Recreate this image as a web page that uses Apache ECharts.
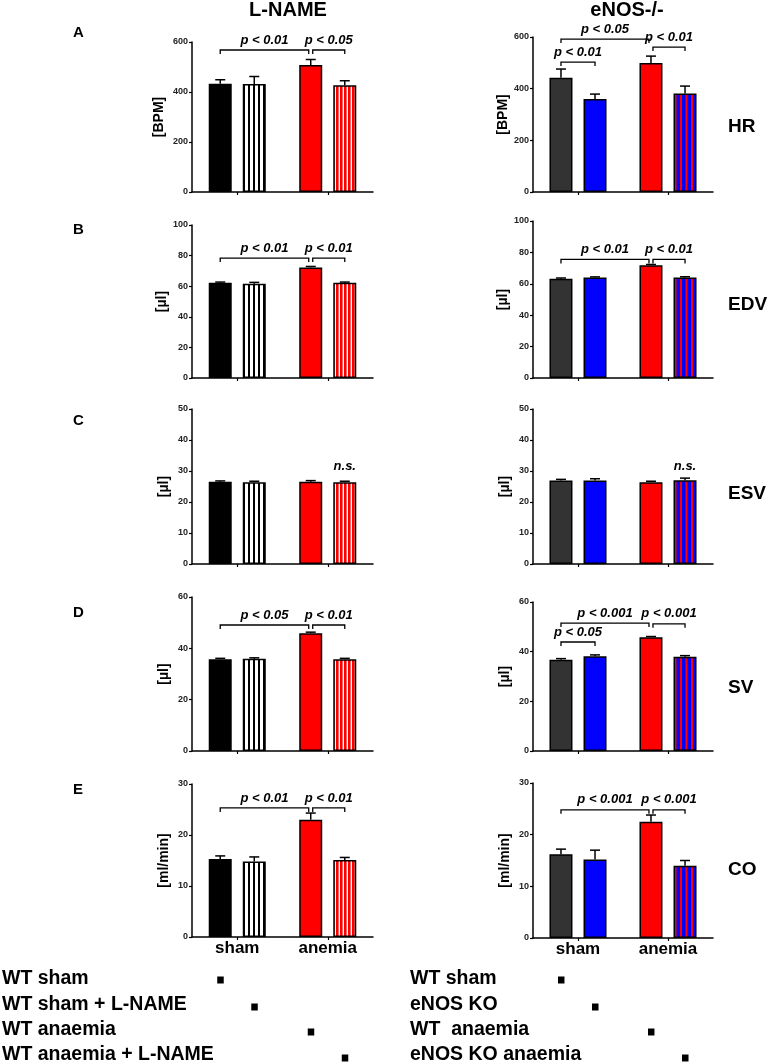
<!DOCTYPE html>
<html><head><meta charset="utf-8">
<script src="https://cdn.jsdelivr.net/npm/echarts@6/dist/echarts.min.js"></script>
<style>html,body{margin:0;padding:0;background:#fff}#c{width:769px;height:1063px}</style>
</head><body><div id="c"></div>
<script>
// ---------- data ----------
const groups = ['sham', 'anemia'];
const colTitles = ['L-NAME', 'eNOS-/-'];
const rowLabels = ['HR', 'EDV', 'ESV', 'SV', 'CO'];
const panelLetters = ['A', 'B', 'C', 'D', 'E'];
const yNames = ['[BPM]', '[µl]', '[µl]', '[µl]', '[ml/min]'];
const yMax = [600, 100, 50, 60, 30];
const yStep = [200, 20, 10, 20, 10];
const legendLname = ['WT sham', 'WT sham + L-NAME', 'WT anaemia', 'WT anaemia + L-NAME'];
const legendEnos = ['WT sham', 'eNOS KO', 'WT  anaemia', 'eNOS KO anaemia'];

// order of bars: sham WT, sham treated, anemia WT, anemia treated
const hrLname = [433, 432, 508, 427];
const hrLnameErr = [16, 30, 22, 18];
const hrEnos = [442, 360, 499, 381];
const hrEnosErr = [34, 19, 27, 29];
const edvLname = [62.3, 61.6, 72.3, 62.2];
const edvLnameErr = [0.4, 0.9, 0.6, 0.5];
const edvEnos = [63.2, 64.0, 71.8, 64.0];
const edvEnosErr = [0.5, 0.4, 0.5, 0.5];
const esvLname = [26.5, 26.4, 26.5, 26.4];
const esvLnameErr = [0.3, 0.3, 0.4, 0.3];
const esvEnos = [26.9, 26.9, 26.4, 27.0];
const esvEnosErr = [0.4, 0.6, 0.3, 0.7];
const svLname = [35.7, 35.9, 45.9, 35.7];
const svLnameErr = [0.4, 0.4, 0.4, 0.4];
const svEnos = [36.7, 38.2, 45.8, 38.0];
const svEnosErr = [0.5, 0.5, 0.3, 0.4];
const coLname = [15.3, 14.8, 23.0, 15.1];
const coLnameErr = [0.6, 0.9, 1.3, 0.5];
const coEnos = [16.2, 15.2, 22.5, 14.0];
const coEnosErr = [1.0, 1.8, 1.3, 1.0];

// significance: [fromBar, toBar, y value of bracket, text]
const hrLnameSig = [[0, 2, 568, 'p < 0.01'], [2, 3, 568, 'p < 0.05']];
const hrEnosSig = [[0, 2, 592, 'p < 0.05'], [0, 1, 503, 'p < 0.01'], [2, 3, 561, 'p < 0.01']];
const edvLnameSig = [[0, 2, 78.4, 'p < 0.01'], [2, 3, 78.4, 'p < 0.01']];
const edvEnosSig = [[0, 2, 75.5, 'p < 0.01'], [2, 3, 75.5, 'p < 0.01']];
const esvLnameSig = [[3, 3, 28.1, 'n.s.']];
const esvEnosSig = [[3, 3, 28.1, 'n.s.']];
const svLnameSig = [[0, 2, 49.1, 'p < 0.05'], [2, 3, 49.1, 'p < 0.01']];
const svEnosSig = [[0, 2, 51.5, 'p < 0.001'], [0, 1, 43.9, 'p < 0.05'], [2, 3, 51.2, 'p < 0.001']];
const coLnameSig = [[0, 2, 25.3, 'p < 0.01'], [2, 3, 25.3, 'p < 0.01']];
const coEnosSig = [[0, 2, 24.8, 'p < 0.001'], [2, 3, 24.8, 'p < 0.001']];

const leftVals = [hrLname, edvLname, esvLname, svLname, coLname];
const leftErrs = [hrLnameErr, edvLnameErr, esvLnameErr, svLnameErr, coLnameErr];
const leftSigs = [hrLnameSig, edvLnameSig, esvLnameSig, svLnameSig, coLnameSig];
const rightVals = [hrEnos, edvEnos, esvEnos, svEnos, coEnos];
const rightErrs = [hrEnosErr, edvEnosErr, esvEnosErr, svEnosErr, coEnosErr];
const rightSigs = [hrEnosSig, edvEnosSig, esvEnosSig, svEnosSig, coEnosSig];

// ---------- layout ----------
const FONT = 'Liberation Sans, Arial, sans-serif';
const gridL = {left: 192, width: 181, tops: [42, 225, 409, 597, 784], heights: [150, 153, 155, 154, 153]};
const gridR = {left: 533, width: 180, tops: [37, 221, 409, 602, 783], heights: [155, 157, 155, 149, 155]};
const BAR_W = 23, BAR_GAP = 0.48;
const BAR_OFF = (BAR_W + BAR_W * BAR_GAP) / 2;

function stripe(period, w1, c1, c2) {
  const cv = document.createElement('canvas');
  cv.width = period * 2; cv.height = 8;
  const ctx = cv.getContext('2d');
  ctx.fillStyle = c1; ctx.fillRect(0, 0, cv.width, 8);
  ctx.fillStyle = c2;
  ctx.fillRect(w1, 0, period - w1, 8);
  ctx.fillRect(period + w1, 0, period - w1, 8);
  return {image: cv, repeat: 'repeat'};
}
const patBW = stripe(5, 3, '#ffffff', '#000000');
const patRW = stripe(4, 2.6, '#ff0000', '#ffffff');
const patBR = stripe(5.5, 3.5, '#0000ff', '#ff0000');
const colorsL = ['#000000', patBW, '#ff0000', patRW];
const colorsR = ['#333333', '#0000ff', '#ff0000', patBR];

const grids = [], xAxes = [], yAxes = [], series = [];

function barX(api, i, y) {
  const p = api.coord([i < 2 ? 0 : 1, y]);
  return [p[0] + (i % 2 ? 1 : -1) * BAR_OFF, p[1]];
}

function addPanel(row, side) {
  const g = side === 0 ? gridL : gridR;
  const vals = side === 0 ? leftVals[row] : rightVals[row];
  const errs = side === 0 ? leftErrs[row] : rightErrs[row];
  const sigs = side === 0 ? leftSigs[row] : rightSigs[row];
  const colors = side === 0 ? colorsL : colorsR;
  const names = side === 0 ? legendLname : legendEnos;
  const idx = grids.length;
  grids.push({left: g.left, top: g.tops[row], width: g.width, height: g.heights[row], containLabel: false});
  xAxes.push({
    type: 'category', gridIndex: idx, data: groups,
    axisLine: {lineStyle: {color: '#000', width: 1.5}},
    axisTick: {show: true, alignWithLabel: true, length: 3, lineStyle: {color: '#000', width: 1.2}},
    axisLabel: {show: row === 4, color: '#000', fontFamily: FONT, fontWeight: 'bold', fontSize: 17, margin: 3},
    splitLine: {show: false}
  });
  yAxes.push({
    type: 'value', gridIndex: idx, min: 0, max: yMax[row], interval: yStep[row],
    name: yNames[row], nameLocation: 'middle', nameRotate: 90,
    nameGap: row === 0 ? (side === 0 ? 26 : 23) : 21,
    nameTextStyle: {color: '#000', fontFamily: FONT, fontWeight: 'bold', fontSize: 14},
    axisLine: {show: true, lineStyle: {color: '#000', width: 1.5}},
    axisTick: {show: true, length: 3, lineStyle: {color: '#000', width: 1.2}},
    axisLabel: {color: '#222', fontFamily: FONT, fontWeight: 'bold', fontSize: 9, margin: 4},
    splitLine: {show: false}
  });
  const border = {borderColor: '#000', borderWidth: 1.5};
  series.push({
    type: 'bar', name: names[0] + ' / ' + names[2], xAxisIndex: idx, yAxisIndex: idx,
    barWidth: BAR_W, barGap: (BAR_GAP * 100) + '%',
    data: [
      {value: vals[0], itemStyle: Object.assign({color: colors[0]}, border)},
      {value: vals[2], itemStyle: Object.assign({color: colors[2]}, border)}
    ]
  });
  series.push({
    type: 'bar', name: names[1] + ' / ' + names[3], xAxisIndex: idx, yAxisIndex: idx,
    barWidth: BAR_W, barGap: (BAR_GAP * 100) + '%',
    data: [
      {value: vals[1], itemStyle: Object.assign({color: colors[1]}, border)},
      {value: vals[3], itemStyle: Object.assign({color: colors[3]}, border)}
    ]
  });
  // error bars (upper whisker)
  series.push({
    type: 'custom', xAxisIndex: idx, yAxisIndex: idx, z: 5,
    data: vals.map((v, i) => [i < 2 ? 0 : 1, v, errs[i], i]),
    encode: {x: 0, y: 1},
    renderItem: function (params, api) {
      const i = api.value(3);
      const b = barX(api, i, api.value(1));
      const t = barX(api, i, api.value(1) + api.value(2));
      return {type: 'group', children: [
        {type: 'line', shape: {x1: b[0], y1: b[1], x2: t[0], y2: t[1]}, style: {stroke: '#000', lineWidth: 1.5}},
        {type: 'line', shape: {x1: t[0] - 5, y1: t[1], x2: t[0] + 5, y2: t[1]}, style: {stroke: '#000', lineWidth: 1.5}}
      ]};
    }
  });
  // significance brackets
  series.push({
    type: 'custom', xAxisIndex: idx, yAxisIndex: idx, z: 6, clip: false,
    data: sigs.map(s => [0, s[2]]),
    encode: {x: 0, y: 1},
    renderItem: function (params, api) {
      const s = sigs[params.dataIndex];
      const a = barX(api, s[0], s[2]);
      const c = barX(api, s[1], s[2]);
      const textStyle = {text: s[3], font: 'italic bold 13px ' + FONT, fill: '#000', align: 'center', verticalAlign: 'middle'};
      if (s[0] === s[1]) {
        return {type: 'text', x: a[0], y: a[1] - 10, style: textStyle};
      }
      let x1 = a[0], x2 = c[0];
      if (s[1] === 2) x2 -= 2;
      if (s[0] === 2) x1 += 2;
      const y = a[1];
      return {type: 'group', children: [
        {type: 'polyline', shape: {points: [[x1, y + 4], [x1, y], [x2, y], [x2, y + 4]]}, style: {stroke: '#000', lineWidth: 1.3, fill: null}},
        {type: 'text', x: (x1 + x2) / 2, y: y - 10, style: textStyle}
      ]};
    }
  });
}

for (let r = 0; r < 5; r++) { addPanel(r, 0); addPanel(r, 1); }

const graphics = [];
function txt(x, y, text, size, align, style) {
  graphics.push({type: 'text', x: x, y: y, style: {text: text, font: (style || 'bold') + ' ' + size + 'px ' + FONT, fill: '#000', align: align || 'center', verticalAlign: 'middle'}});
}
txt(288, 10, colTitles[0], 20);
txt(627, 10, colTitles[1], 20);
const letterY = [33, 230, 421, 613, 790];
const rowLabelY = [127, 305, 494, 688, 870];
for (let r = 0; r < 5; r++) {
  txt(73, letterY[r], panelLetters[r], 15, 'left');
  txt(728, rowLabelY[r], rowLabels[r], 19, 'left');
}
const legendY = [979, 1005, 1030, 1055];
for (let k = 0; k < 4; k++) {
  txt(2, legendY[k], legendLname[k], 19.5, 'left');
  txt(410, legendY[k], legendEnos[k], 19.5, 'left');
}

const chart = echarts.init(document.getElementById('c'), null, {renderer: 'canvas'});
chart.setOption({
  animation: false, backgroundColor: '#fff',
  grid: grids, xAxis: xAxes, yAxis: yAxes, series: series, graphic: graphics
});

// legend squares under each bar position of the bottom panels
const squareY = [980, 1007, 1032, 1058];
[8, 9].forEach(function (gi) {
  for (let i = 0; i < 4; i++) {
    const cx = chart.convertToPixel({xAxisIndex: gi}, groups[i < 2 ? 0 : 1]) + (i % 2 ? 1 : -1) * BAR_OFF;
    graphics.push({type: 'rect', shape: {x: cx - 3, y: squareY[i] - 3.5, width: 6.5, height: 7}, style: {fill: '#000'}});
  }
});
chart.setOption({graphic: graphics});
</script>
</body></html>
